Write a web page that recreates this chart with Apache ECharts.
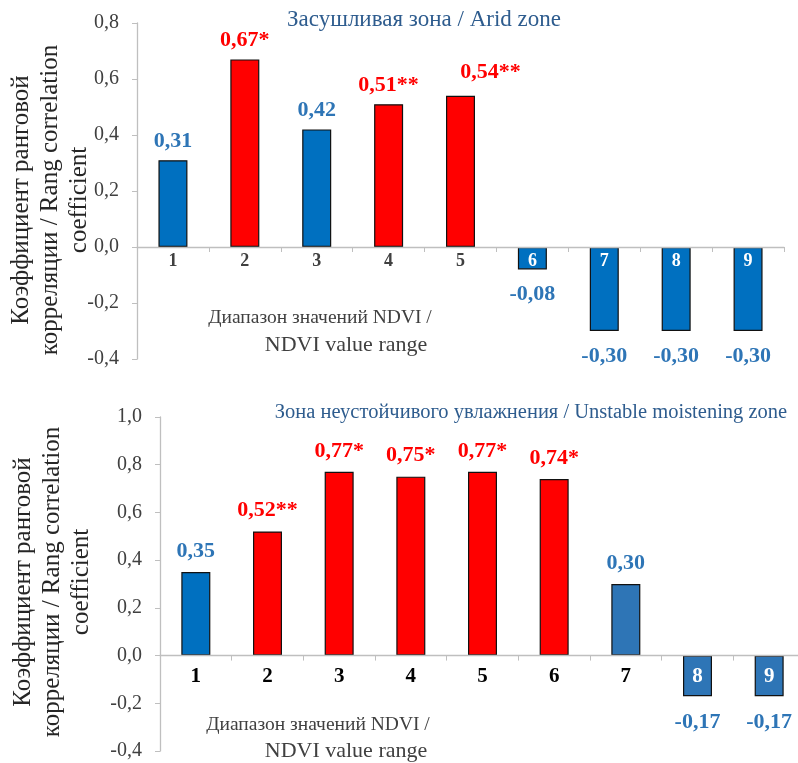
<!DOCTYPE html>
<html>
<head>
<meta charset="utf-8">
<script src="https://cdn.jsdelivr.net/npm/echarts@6/dist/echarts.min.js"></script>
<style>
html,body{margin:0;padding:0;background:#fff;}
#chart{width:798px;height:763px;}
</style>
</head>
<body>
<div id="chart"></div>
<script>
// ---- data ----
var categories = ['1','2','3','4','5','6','7','8','9'];

var aridValues = [0.31, 0.67, 0.42, 0.51, 0.54, -0.08, -0.30, -0.30, -0.30];
var aridSig    = ['', '*', '', '**', '**', '', '', '', ''];
var aridKind   = ['b', 'r', 'b', 'r', 'r', 'b', 'b', 'b', 'b'];

var unstValues = [0.35, 0.52, 0.77, 0.75, 0.77, 0.74, 0.30, -0.17, -0.17];
var unstSig    = ['', '**', '*', '*', '*', '*', '', '', ''];
var unstKind   = ['b', 'r', 'r', 'r', 'r', 'r', 'b2', 'b2', 'b2'];

var titleArid = 'Засушливая зона / Arid zone';
var titleUnst = 'Зона неустойчивого увлажнения / Unstable moistening zone';
var xNameLine1 = 'Диапазон значений NDVI /';
var xNameLine2 = 'NDVI value range';
var yName = 'Коэффициент ранговой\nкорреляции / Rang correlation\ncoefficient';

// ---- styles ----
var FONT = '"Liberation Serif","Times New Roman",serif';
var barColors = { b: '#0070C0', r: '#FF0000', b2: '#2E75B6' };
var labelColors = { b: '#2E75B6', r: '#FF0000', b2: '#2E75B6' };
// manual label nudges (style only)
var aridLabelOffset = { 4: [30, -4] };

function fmt(v){ return v.toFixed(2).replace('.', ','); }

function buildData(values, sig, kind, posDist, negDist, offsets){
  return values.map(function(v, i){
    return {
      value: v,
      itemStyle: { color: barColors[kind[i]], borderColor: '#111', borderWidth: 1.2 },
      label: {
        show: true,
        position: v >= 0 ? 'top' : 'bottom',
        distance: v >= 0 ? posDist : negDist,
        offset: (offsets && offsets[i]) || [0, 0],
        formatter: fmt(v) + sig[i],
        color: labelColors[kind[i]],
        fontFamily: FONT, fontWeight: 'bold', fontSize: 22
      }
    };
  });
}

function catLabelData(values, posColor, size, dist){
  return values.map(function(v, i){
    return {
      value: 0,
      itemStyle: { color: 'rgba(0,0,0,0)', borderWidth: 0 },
      label: {
        show: true, position: 'bottom', distance: dist,
        formatter: categories[i],
        color: v < 0 ? '#FFFFFF' : posColor,
        fontFamily: FONT, fontWeight: 'bold', fontSize: size
      }
    };
  });
}

function yAxis(gridIndex, max){
  return {
    type: 'value', gridIndex: gridIndex, min: -0.4, max: max, interval: 0.2,
    axisLine: { show: true, lineStyle: { color: '#BFBFBF', width: 1.3 } },
    axisTick: { show: true, inside: false, length: 5, lineStyle: { color: '#BFBFBF' } },
    splitLine: { show: false },
    axisLabel: {
      margin: 18, fontFamily: FONT, fontSize: 20, color: '#404040',
      formatter: function(v){ return v.toFixed(1).replace('.', ','); }
    }
  };
}

function xAxis(gridIndex){
  return {
    type: 'category', gridIndex: gridIndex, data: categories, z: 10,
    axisLine: { onZero: true, lineStyle: { color: '#BFBFBF', width: 1.3 } },
    axisTick: { show: true, alignWithLabel: false, length: 5, lineStyle: { color: '#BFBFBF' } },
    axisLabel: { show: false }
  };
}

var chart = echarts.init(document.getElementById('chart'), null, { renderer: 'canvas' });
chart.setOption({
  backgroundColor: '#fff',
  animation: false,
  grid: [
    { left: 137, top: 23, width: 647, height: 336, outerBoundsMode: 'none', containLabel: false },
    { left: 160, top: 417, width: 645, height: 334, outerBoundsMode: 'none', containLabel: false }
  ],
  xAxis: [ xAxis(0), xAxis(1) ],
  yAxis: [ yAxis(0, 0.8), yAxis(1, 1.0) ],
  series: [
    { type: 'bar', xAxisIndex: 0, yAxisIndex: 0, barWidth: 29,
      data: buildData(aridValues, aridSig, aridKind, 8, 14, aridLabelOffset) },
    { type: 'bar', xAxisIndex: 0, yAxisIndex: 0, barWidth: 29, barGap: '-100%', z: 5,
      data: catLabelData(aridValues, '#404040', 18, 5) },
    { type: 'bar', xAxisIndex: 1, yAxisIndex: 1, barWidth: 29,
      data: buildData(unstValues, unstSig, unstKind, 10, 15) },
    { type: 'bar', xAxisIndex: 1, yAxisIndex: 1, barWidth: 29, barGap: '-100%', z: 5,
      data: catLabelData(unstValues, '#000000', 21, 11) }
  ],
  graphic: [
    { type: 'text', x: 424, y: 20, style: { text: titleArid, font: '23px ' + FONT, fill: '#2E5C8E', align: 'center', verticalAlign: 'middle' } },
    { type: 'text', x: 531, y: 413, style: { text: titleUnst, font: '20.5px ' + FONT, fill: '#2E5C8E', align: 'center', verticalAlign: 'middle' } },
    { type: 'text', x: 320, y: 318, style: { text: xNameLine1, font: '19.5px ' + FONT, fill: '#404040', align: 'center', verticalAlign: 'middle' } },
    { type: 'text', x: 346, y: 345, style: { text: xNameLine2, font: '22px ' + FONT, fill: '#404040', align: 'center', verticalAlign: 'middle' } },
    { type: 'text', x: 318, y: 725, style: { text: xNameLine1, font: '19.5px ' + FONT, fill: '#404040', align: 'center', verticalAlign: 'middle' } },
    { type: 'text', x: 346, y: 751, style: { text: xNameLine2, font: '22px ' + FONT, fill: '#404040', align: 'center', verticalAlign: 'middle' } },
    { type: 'text', x: 50, y: 200, rotation: Math.PI / 2, style: { text: yName, font: '25px ' + FONT, fill: '#262626', align: 'center', verticalAlign: 'middle', lineHeight: 29 } },
    { type: 'text', x: 52, y: 582, rotation: Math.PI / 2, style: { text: yName, font: '25px ' + FONT, fill: '#262626', align: 'center', verticalAlign: 'middle', lineHeight: 29 } }
  ]
});
</script>
</body>
</html>
